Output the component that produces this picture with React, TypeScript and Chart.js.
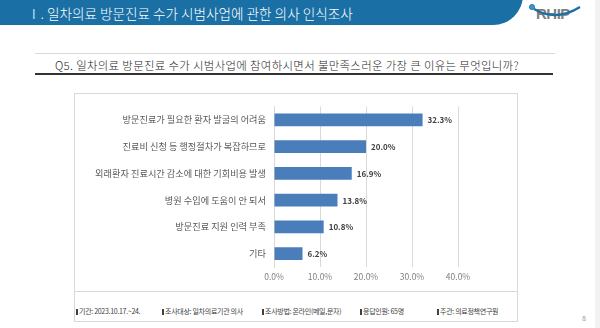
import React, { useEffect, useRef } from "react";
import { Chart, registerables } from "chart.js";

Chart.register(...registerables);

const categories = [
  "방문진료가 필요한 환자 발굴의 어려움",
  "진료비 신청 등 행정절차가 복잡하므로",
  "외래환자 진료시간 감소에 대한 기회비용 발생",
  "병원 수입에 도움이 안 되서",
  "방문진료 지원 인력 부족",
  "기타",
];
const values = [32.3, 20.0, 16.9, 13.8, 10.8, 6.2];
const xTicks = [0, 10, 20, 30, 40];

const titleText = "Ⅰ. 일차의료 방문진료 수가 시범사업에 관한 의사 인식조사";
const questionText = "Q5. 일차의료 방문진료 수가 시범사업에 참여하시면서 불만족스러운 가장 큰 이유는 무엇입니까?";
const footerItems = [
  "기간: 2023.10.17.~24.",
  "조사대상: 일차의료기관 의사",
  "조사방법: 온라인(메일,문자)",
  "응답인원: 65명",
  "주관: 의료정책연구원",
];
const footerX = [79, 165, 265, 363, 440];

const FONT = "'Noto Sans CJK KR', 'Noto Sans', sans-serif";

const labelPlugin = {
  id: "barLabels",
  afterDatasetsDraw(chart: any) {
    const ctx = chart.ctx;
    const meta = chart.getDatasetMeta(0);
    ctx.save();
    ctx.font = `bold 8px ${FONT}`;
    ctx.fillStyle = "#404040";
    ctx.textAlign = "left";
    ctx.textBaseline = "middle";
    meta.data.forEach((bar: any, i: number) => {
      ctx.fillText(values[i].toFixed(1) + "%", bar.x + 5, bar.y + 0.5);
    });
    ctx.restore();
  },
};

function BarChart() {
  const ref = useRef<HTMLCanvasElement | null>(null);
  useEffect(() => {
    if (!ref.current) return;
    const chart = new Chart(ref.current, {
      type: "bar",
      data: {
        labels: categories,
        datasets: [
          {
            data: values,
            backgroundColor: "#4a7ebb",
            borderWidth: 0,
            barPercentage: 0.48,
            categoryPercentage: 1,
          },
        ],
      },
      options: {
        indexAxis: "y",
        animation: false,
        responsive: false,
        maintainAspectRatio: false,
        layout: { padding: { top: 12, right: 61, bottom: 4, left: 0 } },
        plugins: { legend: { display: false }, tooltip: { enabled: false } },
        scales: {
          x: {
            min: 0,
            max: 40,
            afterBuildTicks(scale: any) {
              scale.ticks = xTicks.map((v) => ({ value: v }));
            },
            afterFit(scale: any) {
              scale.height = 20;
            },
            ticks: {
              padding: 5,
              color: "#808080",
              font: { family: FONT, size: 8.5 },
              callback: (v: any) => Number(v).toFixed(1) + "%",
            },
            grid: { color: "#d9d9d9", drawTicks: false, lineWidth: 1 },
            border: { display: false },
          },
          y: {
            afterFit(scale: any) {
              scale.width = 200;
            },
            ticks: {
              padding: 8,
              color: "#595959",
              font: { family: FONT, size: 9.2 },
            },
            grid: { display: false, drawTicks: false },
            border: { display: true, color: "#d9d9d9" },
          },
        },
      },
      plugins: [labelPlugin],
    });
    return () => chart.destroy();
  }, []);
  return <canvas ref={ref} width={445} height={198} style={{ position: "absolute", left: 74, top: 93, width: 445, height: 198 }} />;
}

export default function App() {
  return (
    <div style={{ position: "absolute", left: 0, top: 0, width: 600, height: 328, background: "#fff", overflow: "hidden", fontFamily: FONT }}>
      {/* header band */}
      <div style={{ position: "absolute", left: -20, top: -30, width: 543, height: 55, background: "#1a6fa5", borderBottomRightRadius: 30 }} />
      <div style={{ position: "absolute", left: 27, top: 3, color: "#fff", fontSize: 13.6, lineHeight: "20px", whiteSpace: "nowrap", fontWeight: 300 }}>{titleText}</div>
      {/* logo */}
      <svg style={{ position: "absolute", left: 528, top: 2 }} width={60} height={22}>
        <circle cx={4} cy={5} r={2.6} fill="#4a90c8" stroke="#1a6fa5" strokeWidth={0.8} />
        <text x={8} y={17} fontFamily="'Liberation Sans', Arial, sans-serif" fontWeight="bold" fontSize={15} fill="#7f7f7f" letterSpacing={-0.5}>RHIP</text>
        <path d="M6 7 Q 28 20 52 5" stroke="#1a6fa5" strokeWidth={2.2} fill="none" />
      </svg>
      {/* right strip */}
      <div style={{ position: "absolute", left: 595, top: 0, width: 5, height: 328, background: "#f2f2f2" }} />
      {/* grey line */}
      <div style={{ position: "absolute", left: 35, top: 53, width: 520, height: 1, background: "#d9d9d9" }} />
      {/* question */}
      <div style={{ position: "absolute", left: 55, top: 57, fontSize: 11.4, lineHeight: "16px", color: "#262626", whiteSpace: "nowrap", fontWeight: 300, letterSpacing: 0.35 }}>
        {questionText}
      </div>
      <div style={{ position: "absolute", left: 35, top: 73, width: 518, height: 1.5, background: "#333" }} />
      {/* box */}
      <div style={{ position: "absolute", left: 74, top: 93, width: 444, height: 229, border: "1px solid #d9d9d9", boxSizing: "border-box" as any }} />
      <div style={{ position: "absolute", left: 74, top: 291, width: 444, height: 1, background: "#d9d9d9" }} />
      <BarChart />
      {footerItems.map((t, i) => (
        <div key={i} style={{ position: "absolute", left: footerX[i] - 3, top: 306, fontSize: 7, lineHeight: "10px", color: "#404040", whiteSpace: "nowrap", letterSpacing: -0.3 }}>
          <span style={{ display: "inline-block", width: 1.5, height: 6, background: "#404040", marginRight: 1.5, verticalAlign: "-0.5px" }} />
          {t}
        </div>
      ))}
      <div style={{ position: "absolute", left: 582, top: 313, fontSize: 7, color: "#999" }}>8</div>
    </div>
  );
}
